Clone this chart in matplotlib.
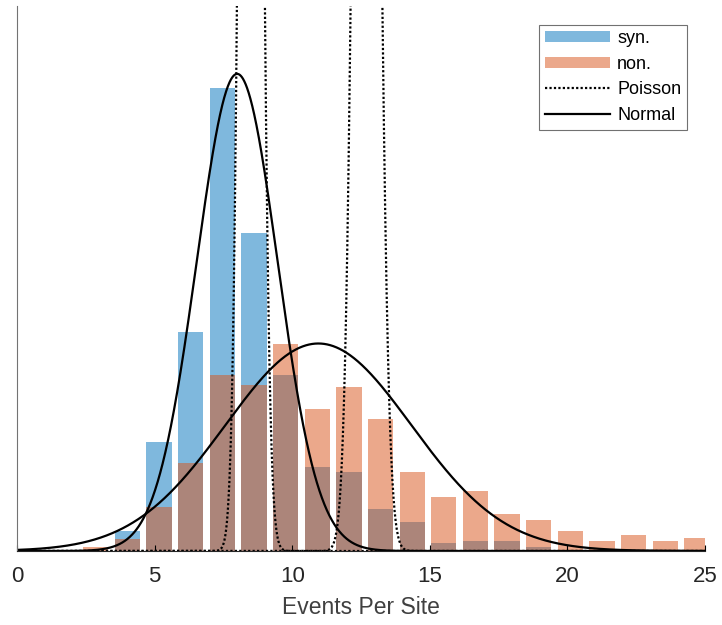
import numpy as np
import matplotlib
matplotlib.use("Agg")
import matplotlib.pyplot as plt
from math import lgamma

plt.rcParams['font.family'] = ['Liberation Sans', 'DejaVu Sans']

# histogram bins (centres, width) and pdf-normalised heights
bin_centers = [2.86, 4.01, 5.16, 6.31, 7.46, 8.61, 9.76, 10.91, 12.06, 13.21,
               14.36, 15.51, 16.66, 17.81, 18.96, 20.11, 21.26, 22.41, 23.56, 24.71]
bin_width = 1.15
syn_density = [0.0, 0.0115, 0.0622, 0.1244, 0.2632, 0.1807, 0.1001, 0.0476, 0.0449, 0.0239,
               0.0163, 0.0044, 0.0057, 0.0057, 0.0024, 0.0, 0.0, 0.0, 0.0, 0.0]
non_density = [0.0023, 0.0068, 0.0249, 0.0502, 0.1001, 0.0943, 0.1176, 0.0809, 0.0935, 0.0751,
               0.0451, 0.0305, 0.0343, 0.0209, 0.0176, 0.0114, 0.0059, 0.0091, 0.0059, 0.0072]

# fitted parameters
normal_mu = {'syn': 8.0, 'non': 10.95}
normal_sd = {'syn': 1.47, 'non': 3.38}
poisson_lam = {'syn': 8.5, 'non': 12.7}
n_pool = 96

x_ticks = [0, 5, 10, 15, 20, 25]

blue = (0.0, 0.447, 0.741)
orange = (0.85, 0.325, 0.098)


def normal_pdf(x, mu, sd):
    return np.exp(-0.5 * ((x - mu) / sd) ** 2) / (sd * np.sqrt(2 * np.pi))


def pooled_poisson(x, lam, k):
    # rate per site from counts pooled over k sites
    n = x * k
    lg = np.array([lgamma(v + 1) for v in n])
    return k * np.exp(n * np.log(lam * k) - lam * k - lg)


fig = plt.figure(figsize=(7.22, 6.25), dpi=100)
ax = fig.add_axes([17 / 722, 74 / 625, 688 / 722, 545 / 625])

h_syn = ax.bar(bin_centers, syn_density, width=0.8 * bin_width, color=blue, alpha=0.5,
               linewidth=0)
h_non = ax.bar(bin_centers, non_density, width=0.8 * bin_width, color=orange, alpha=0.5,
               linewidth=0)

x = np.linspace(0, 25, 2501)
h_poi = None
for key in ['syn', 'non']:
    h_poi, = ax.plot(x, pooled_poisson(x, poisson_lam[key], n_pool), color='black',
                     lw=1.6, linestyle=(0, (1, 1)))
h_norm = None
for key in ['syn', 'non']:
    h_norm, = ax.plot(x, normal_pdf(x, normal_mu[key], normal_sd[key]), color='black',
                      lw=1.6)

ax.set_xlim(0, 25)
ax.set_ylim(0, 0.31)
ax.set_xticks(x_ticks)
ax.set_yticks([])
ax.tick_params(axis='x', direction='in', length=4, width=0.8, labelsize=16,
               labelcolor='#262626', pad=11)
ax.set_xlabel('Events Per Site', fontsize=16.5, color='#404040', labelpad=6)

ax.spines['top'].set_visible(False)
ax.spines['right'].set_visible(False)
ax.spines['left'].set_color('0.45')
ax.spines['left'].set_linewidth(0.8)
ax.spines['bottom'].set_color('#262626')
ax.spines['bottom'].set_linewidth(0.8)

leg = ax.legend([h_syn, h_non, h_poi, h_norm], ['syn.', 'non.', 'Poisson', 'Normal'],
                loc='upper right', bbox_to_anchor=(0.974, 0.966), fontsize=13,
                fancybox=False, frameon=True, handlelength=3.6, handleheight=0.55,
                handletextpad=0.4, borderpad=0.32, labelspacing=0.47, borderaxespad=0)
leg.get_frame().set_edgecolor('0.3')
leg.get_frame().set_linewidth(0.8)

fig.savefig('out.png', dpi=100)
